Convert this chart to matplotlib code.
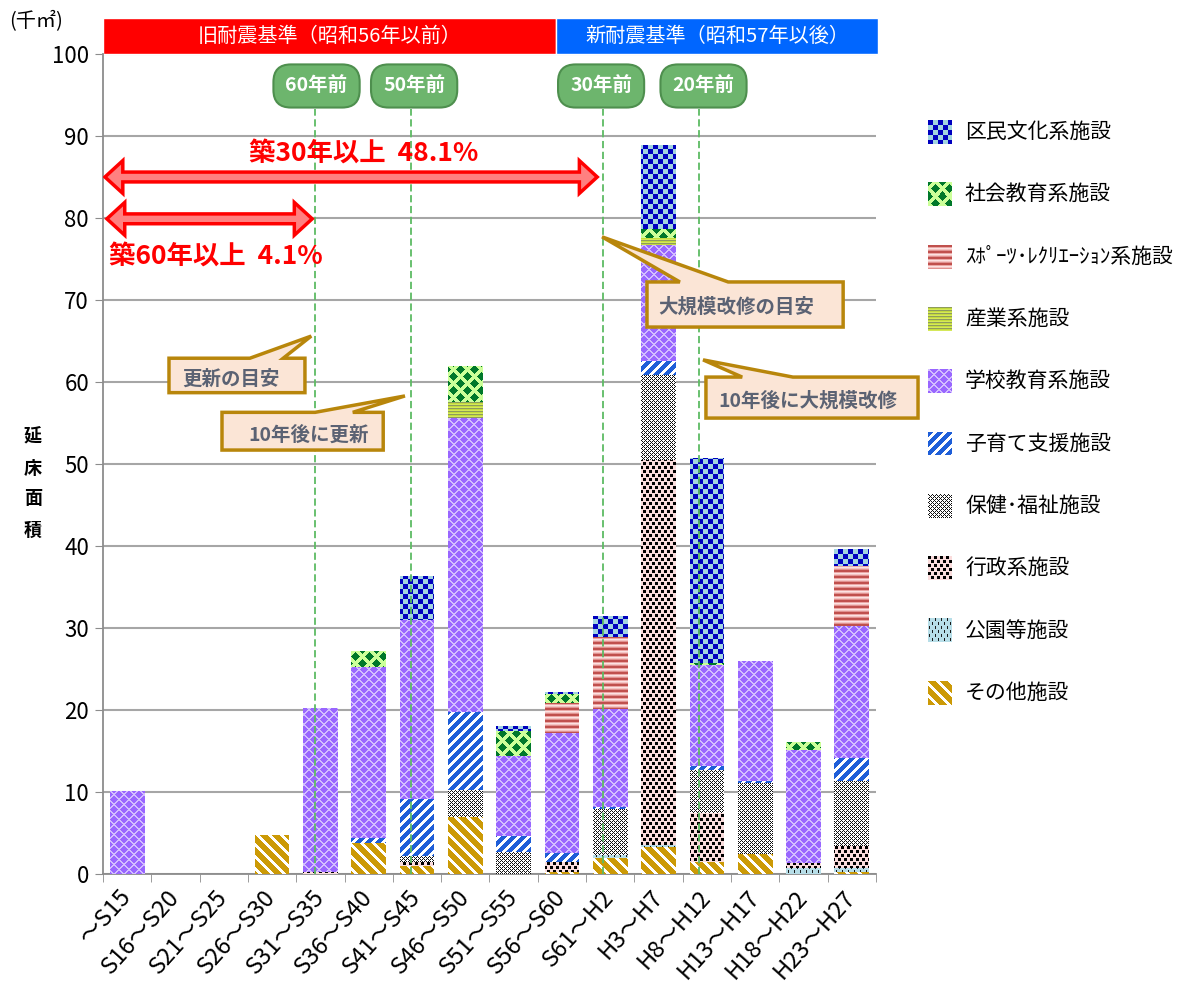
import numpy as np
import matplotlib
import matplotlib.pyplot as plt
import matplotlib.transforms as mtransforms
from matplotlib.path import Path
from matplotlib.patches import Polygon, Rectangle

plt.rcParams['font.family'] = ['Noto Sans CJK JP', 'DejaVu Sans']

periods = ["～S15", "S16～S20", "S21～S25", "S26～S30", "S31～S35", "S36～S40",
           "S41～S45", "S46～S50", "S51～S55", "S56～S60", "S61～H2", "H3～H7",
           "H8～H12", "H13～H17", "H18～H22", "H23～H27"]

# floor area (thousand m2), stacked bottom -> top
sonota   = [0, 0, 0, 4.8, 0, 3.8, 1.0, 6.9, 0, 0.3, 1.9, 3.3, 1.5, 2.5, 0, 0.2]
koen     = [0, 0, 0, 0, 0, 0, 0, 0, 0, 0, 0.4, 0.2, 0, 0, 0.7, 0.5]
gyosei   = [0, 0, 0, 0, 0.3, 0, 0.5, 0, 0, 1.2, 0, 47.0, 6.0, 0, 0.6, 2.7]
hoken    = [0, 0, 0, 0, 0, 0, 0.7, 3.4, 2.7, 0, 5.6, 10.4, 5.2, 8.6, 0, 8.0]
kosodate = [0, 0, 0, 0, 0, 0.6, 7.0, 9.4, 1.9, 1.1, 0.3, 1.7, 0.5, 0.2, 0, 2.7]
gakko    = [10.1, 0, 0, 0, 19.9, 20.8, 21.8, 35.9, 9.8, 14.6, 11.9, 14.1, 12.3, 14.7, 13.8, 16.2]
sangyo   = [0, 0, 0, 0, 0, 0, 0, 2.0, 0, 0, 0, 0.9, 0, 0, 0, 0]
sports   = [0, 0, 0, 0, 0, 0, 0, 0, 0, 3.7, 8.8, 0, 0, 0, 0, 7.3]
shakai   = [0, 0, 0, 0, 0, 2.0, 0, 4.3, 3.0, 1.1, 0, 1.1, 0.2, 0, 1.0, 0]
kumin    = [0, 0, 0, 0, 0, 0, 5.4, 0, 0.7, 0.2, 2.6, 10.2, 25.0, 0, 0, 2.0]

series = [sonota, koen, gyosei, hoken, kosodate, gakko, sangyo, sports, shakai, kumin]
labels = ["その他施設", "公園等施設", "行政系施設", "保健･福祉施設", "子育て支援施設",
          "学校教育系施設", "産業系施設", "ｽﾎﾟｰﾂ･ﾚｸﾘｴｰｼｮﾝ系施設", "社会教育系施設", "区民文化系施設"]
kinds = ["sonota", "koen", "gyosei", "hoken", "kosodate",
         "gakko", "sangyo", "sports", "shakai", "kumin"]


def rgb(c):
    return np.array(matplotlib.colors.to_rgb(c))


def two_tone(mask, fg, bg):
    out = np.empty(mask.shape + (3,))
    out[:] = rgb(bg)
    out[mask] = rgb(fg)
    return out


def make_tile(kind):
    if kind == "kumin":
        y, x = np.mgrid[0:10, 0:10]
        return two_tone(((x // 5) + (y // 5)) % 2 == 0, "#0000BF", "#A3D4E0")
    if kind == "shakai":
        y, x = np.mgrid[0:14, 0:14]
        d = np.minimum.reduce([np.abs(x - cx) + np.abs(y - cy)
                               for cx, cy in [(0, 0), (14, 0), (0, 14), (14, 14), (7, 7)]])
        return two_tone(d <= 4, "#00782A", "#CCFF99")
    if kind == "sports":
        rows = ["#C0504D", "#C0504D", "#EBA8A6", "#FCE2E2", "#F4C4C3", "#E09290"]
        return np.array([[rgb(c)] for c in rows])
    if kind == "sangyo":
        rows = ["#8E9B5C", "#C3DB3B", "#D5E85A"]
        return np.array([[rgb(c)] for c in rows])
    if kind == "gakko":
        y, x = np.mgrid[0:10, 0:10]
        m = ((x + y) % 10 < 2) | ((x - y) % 10 < 2)
        return two_tone(m, "#D2BEFF", "#9966FF")
    if kind == "kosodate":
        y, x = np.mgrid[0:10, 0:10]
        return two_tone((x + y) % 10 < 6, "#1E5ED8", "#FFFFFF")
    if kind == "hoken":
        y, x = np.mgrid[0:4, 0:4]
        return two_tone(((x + y) % 4 == 0) | ((x - y) % 4 == 0), "#111111", "#FFFFFF")
    if kind == "gyosei":
        y, x = np.mgrid[0:8, 0:12]
        m = ((y < 3) & ((x % 6) < 3)) | ((y >= 4) & (y < 7) & (((x - 3) % 6) < 3))
        return two_tone(m, "#000000", "#FADCDC")
    if kind == "koen":
        y, x = np.mgrid[0:8, 0:6]
        m = ((x == 1) & (y < 3)) | ((x == 4) & (y >= 4) & (y < 7))
        return two_tone(m, "#1A1A1A", "#B7DEE8")
    if kind == "sonota":
        y, x = np.mgrid[0:12, 0:12]
        return two_tone((x - y) % 12 < 8, "#CC9A06", "#FFFFFF")


def texture(kind, h, w):
    t = make_tile(kind)
    reps = (h // t.shape[0] + 1, w // t.shape[1] + 1, 1)
    return np.tile(t, reps)[:h, :w]


W_PX, H_PX = 1185, 986
ax_l, ax_r, ax_t, ax_b = 103, 876, 54, 874
fig = plt.figure(figsize=(W_PX / 100, H_PX / 100), dpi=100)
ax = fig.add_axes([ax_l / W_PX, 1 - ax_b / H_PX, (ax_r - ax_l) / W_PX, (ax_b - ax_t) / H_PX])

x = np.arange(len(periods))
ax.set_xlim(-0.5, 15.5)
ax.set_ylim(0, 100)

bottom = np.zeros(len(periods))
for vals, kind in zip(series, kinds):
    vals = np.array(vals, dtype=float)
    tile = make_tile(kind)
    bars = ax.bar(x, vals, 0.72, bottom=bottom, color=tile.reshape(-1, 3).mean(axis=0),
                  linewidth=0, zorder=2)
    paths = [p.get_patch_transform().transform_path(p.get_path()) for p in bars]
    clip = Path.make_compound_path(*paths)
    im = ax.imshow(texture(kind, ax_b - ax_t, ax_r - ax_l), extent=(-0.5, 15.5, 0, 100),
                   aspect="auto", interpolation="nearest", zorder=3)
    im.set_clip_path(clip, ax.transData)
    bottom += vals

ax.set_xlim(-0.5, 15.5)
ax.set_ylim(0, 100)

# axes styling
ax.set_yticks(range(0, 101, 10))
ax.yaxis.grid(True, color="#A6A6A6", linewidth=1.5, zorder=0)
ax.set_axisbelow(True)
for s in ["top", "right"]:
    ax.spines[s].set_visible(False)
for s in ["left", "bottom"]:
    ax.spines[s].set_color("#8C8C8C")
    ax.spines[s].set_linewidth(1.3)
ax.tick_params(axis="y", length=6, color="#8C8C8C", labelsize=16, pad=4)
ax.set_xticks(x)
ax.set_xticklabels(periods, rotation=48, ha="right", va="center", rotation_mode="anchor", fontsize=17)
ax.tick_params(axis="x", which="major", length=0, pad=14)
ax.set_xticks(np.arange(-0.5, 16, 1), minor=True)
ax.tick_params(axis="x", which="minor", length=6, color="#8C8C8C")

fig.text(9 / W_PX, 1 - 22 / H_PX, "(千㎡)", fontsize=14.5, va="center", ha="left")
for i, ch in enumerate("延床面積"):
    fig.text(33 / W_PX, 1 - (437 + i * 31) / H_PX, ch, fontsize=13, fontweight="bold",
             ha="center", va="center")

# header bands
trans = mtransforms.blended_transform_factory(ax.transData, ax.transAxes)
band_h = 36 / (ax_b - ax_t)
split = 8.88
ax.add_patch(Rectangle((-0.5, 1.0), split + 0.5, band_h, transform=trans, clip_on=False,
                       facecolor="#FF0000", edgecolor="white", linewidth=1))
ax.add_patch(Rectangle((split, 1.0), 15.55 - split, band_h, transform=trans, clip_on=False,
                       facecolor="#0066FF", edgecolor="white", linewidth=1))
ax.text((split - 0.5) / 2, 1 + band_h / 2, "旧耐震基準（昭和56年以前）", transform=trans,
        ha="center", va="center", color="white", fontsize=14.5)
ax.text((split + 15.55) / 2, 1 + band_h / 2, "新耐震基準（昭和57年以後）", transform=trans,
        ha="center", va="center", color="white", fontsize=14.5)

# green markers with dashed lines
markers = [(3.88, 3.92, "60年前"), (5.87, 5.94, "50年前"), (9.84, 9.81, "30年前"), (11.84, 11.93, "20年前")]
for xl, xb, txt in markers:
    ax.plot([xl, xl], [0, 93.3], color="#5DBB63", linestyle=(0, (4, 2)), linewidth=1.3, zorder=4)
    ax.text(xb, 96.1, txt, ha="center", va="center", fontsize=14, fontweight="bold", color="white",
            zorder=7, bbox=dict(boxstyle="round,pad=0.62,rounding_size=0.9", fc="#6DB56D",
                                ec="#4E8F4E", lw=1.5))


def double_arrow(x0, x1, yc, shaft=0.6, head=2.0, hl=0.37):
    pts = [(x0, yc), (x0 + hl, yc + head), (x0 + hl, yc + shaft), (x1 - hl, yc + shaft),
           (x1 - hl, yc + head), (x1, yc), (x1 - hl, yc - head), (x1 - hl, yc - shaft),
           (x0 + hl, yc - shaft), (x0 + hl, yc - head)]
    ax.add_patch(Polygon(pts, closed=True, facecolor="#FF8080", edgecolor="#FF0000",
                         linewidth=2.5, joinstyle="miter", zorder=6))


double_arrow(-0.46, 9.73, 85.0)
double_arrow(-0.42, 3.83, 79.9)
ax.text(4.89, 87.9, "築30年以上  48.1%", ha="center", va="center", fontsize=19,
        fontweight="bold", color="#FF0000", zorder=7)
ax.text(1.83, 75.4, "築60年以上  4.1%", ha="center", va="center", fontsize=19,
        fontweight="bold", color="#FF0000", zorder=7)


def callout(x0, x1, y0, y1, b1, tip, b2, text, tx, ty):
    pts = [(x0, y1), (b1, y1), tip, (b2, y1), (x1, y1), (x1, y0), (x0, y0)]
    ax.add_patch(Polygon(pts, closed=True, facecolor="#FBE5D6", edgecolor="#B8860B",
                         linewidth=2.5, joinstyle="miter", zorder=6, clip_on=False))
    ax.text(tx, ty, text, ha="center", va="center", fontsize=14, fontweight="bold",
            color="#5B6273", zorder=7, clip_on=False)


callout(0.866, 3.68, 58.7, 62.9, 2.54, (3.81, 65.6), 3.23, "更新の目安", 2.15, 60.4)
callout(1.963, 5.30, 51.7, 56.3, 3.89, (5.75, 58.3), 4.67, "10年後に更新", 3.75, 53.5)
callout(10.76, 14.82, 66.7, 72.2, 11.44, (9.83, 77.7), 12.44, "大規模改修の目安", 12.61, 69.2)
callout(11.98, 16.37, 55.6, 60.6, 12.73, (11.92, 62.7), 13.78, "10年後に大規模改修", 14.09, 57.7)

# legend (top entry = last stacked series)
for i, (kind, lab) in enumerate(zip(kinds[::-1], labels[::-1])):
    yc = 132 + i * 62.3
    lax = fig.add_axes([928 / W_PX, 1 - (yc + 12) / H_PX, 24 / W_PX, 24 / H_PX])
    lax.imshow(texture(kind, 24, 24), interpolation="nearest", aspect="auto")
    lax.axis("off")
    fig.text(965 / W_PX, 1 - yc / H_PX, lab, fontsize=15, va="center", ha="left")

fig.savefig("out.png", dpi=100)
